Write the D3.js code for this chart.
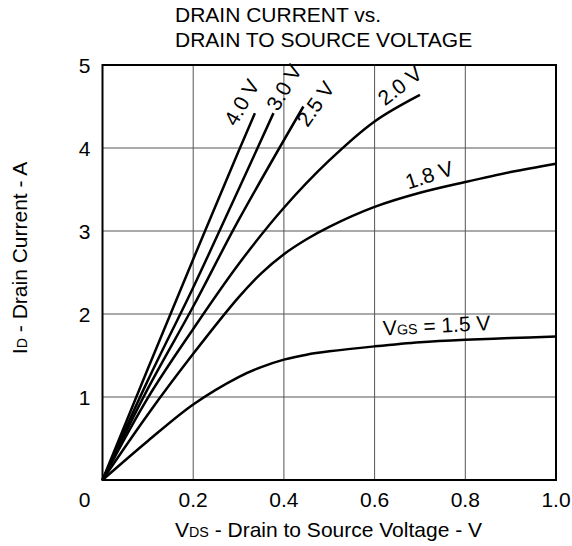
<!DOCTYPE html>
<html>
<head>
<meta charset="utf-8">
<script src="https://cdn.jsdelivr.net/npm/d3@7"></script>
<style>
  body { margin: 0; background: #fff; }
  text { font-family: "Liberation Sans", Arial, Helvetica, sans-serif; fill: #000; }
</style>
</head>
<body>
<div id="chart"></div>
<script>
// values
const vdsTo4_0 = [0, 0.1, 0.2, 0.3, 0.336];
const id4_0 = [0, 1.34, 2.66, 3.96, 4.42];

const vdsTo3_0 = [0, 0.1, 0.2, 0.3, 0.377];
const id3_0 = [0, 1.2, 2.32, 3.5, 4.42];

const vdsTo2_5 = [0, 0.1, 0.2, 0.3, 0.443];
const id2_5 = [0, 1.1, 2.09, 3.13, 4.5];

const vdsTo2_0 = [0, 0.1, 0.2, 0.3, 0.4, 0.5, 0.6, 0.7];
const id2_0 = [0, 0.99, 1.82, 2.6, 3.28, 3.85, 4.32, 4.64];

const vdsFull = [0, 0.1, 0.2, 0.3, 0.35, 0.4, 0.45, 0.5, 0.6, 0.7, 0.8, 0.9, 1.0];
const id1_8 = [0, 0.79, 1.52, 2.2, 2.49, 2.72, 2.9, 3.05, 3.29, 3.46, 3.59, 3.71, 3.81];
const id1_5 = [0, 0.47, 0.91, 1.24, 1.36, 1.45, 1.51, 1.55, 1.61, 1.66, 1.69, 1.71, 1.73];

const xTicks = [0.2, 0.4, 0.6, 0.8, 1.0];
const yTicks = [1, 2, 3, 4, 5];

// curve label anchors (data units) and rotation
const labelText = ["4.0 V", "3.0 V", "2.5 V", "2.0 V", "1.8 V", "1.5 V"];
const labelVds = [0.294, 0.387, 0.452, 0.623, 0.674, 0.619];
const labelId = [4.25, 4.43, 4.24, 4.50, 3.50, 1.74];
const labelAngle = [-60, -60, -55, -38, -18, -3];

const series = [
    { x: vdsTo4_0, y: id4_0 },
    { x: vdsTo3_0, y: id3_0 },
    { x: vdsTo2_5, y: id2_5 },
    { x: vdsTo2_0, y: id2_0 },
    { x: vdsFull, y: id1_8 },
    { x: vdsFull, y: id1_5 }
].map(s => s.x.map((v, i) => ({ vds: v, id: s.y[i] })));

const W = 572, H = 546;
const margin = { top: 65, right: 16, bottom: 66, left: 102.5 };
const width = W - margin.left - margin.right;
const height = H - margin.top - margin.bottom;
const fontSize = 21;

const x = d3.scaleLinear().domain([0, 1]).range([0, width]);
const y = d3.scaleLinear().domain([0, 5]).range([height, 0]);

const svg = d3.select("#chart")
    .append("svg")
    .attr("width", W)
    .attr("height", H);

// title
const title = svg.append("text")
    .attr("x", 175)
    .attr("font-size", fontSize);
title.append("tspan").attr("x", 175).attr("y", 22).text("DRAIN CURRENT vs.");
title.append("tspan").attr("x", 175).attr("y", 47).text("DRAIN TO SOURCE VOLTAGE");

const g = svg.append("g")
    .attr("transform", `translate(${margin.left}, ${margin.top})`);

// grid
g.selectAll(".vgrid")
    .data(xTicks.slice(0, -1))
    .enter()
    .append("line")
    .attr("x1", d => x(d)).attr("x2", d => x(d))
    .attr("y1", 0).attr("y2", height)
    .attr("stroke", "#555")
    .attr("stroke-width", 1);

g.selectAll(".hgrid")
    .data(yTicks.slice(0, -1))
    .enter()
    .append("line")
    .attr("x1", 0).attr("x2", width)
    .attr("y1", d => y(d)).attr("y2", d => y(d))
    .attr("stroke", "#555")
    .attr("stroke-width", 1);

// curves
const line = d3.line()
    .x(d => x(d.vds))
    .y(d => y(d.id))
    .curve(d3.curveCatmullRom.alpha(0.5));

g.selectAll(".curve")
    .data(series)
    .enter()
    .append("path")
    .attr("d", line)
    .attr("fill", "none")
    .attr("stroke", "#000")
    .attr("stroke-width", 2.5);

// frame
g.append("rect")
    .attr("width", width)
    .attr("height", height)
    .attr("fill", "none")
    .attr("stroke", "#000")
    .attr("stroke-width", 2);

// tick labels
g.selectAll(".xtick")
    .data(xTicks)
    .enter()
    .append("text")
    .attr("x", d => x(d))
    .attr("y", height + 27)
    .attr("text-anchor", "middle")
    .attr("font-size", fontSize)
    .text(d => d3.format(".1f")(d));

g.selectAll(".ytick")
    .data(yTicks)
    .enter()
    .append("text")
    .attr("x", -12)
    .attr("y", d => y(d))
    .attr("dy", "0.36em")
    .attr("text-anchor", "end")
    .attr("font-size", fontSize)
    .text(d => d);

g.append("text")
    .attr("x", -12)
    .attr("y", height + 27)
    .attr("text-anchor", "end")
    .attr("font-size", fontSize)
    .text("0");

// axis titles
const xTitle = svg.append("text")
    .attr("x", 175)
    .attr("y", 537)
    .attr("font-size", fontSize);
xTitle.append("tspan").text("V");
xTitle.append("tspan").attr("font-size", fontSize * 0.68).text("DS");
xTitle.append("tspan").text(" - Drain to Source Voltage - V");

const yTitle = svg.append("text")
    .attr("transform", "translate(27, 258) rotate(-90)")
    .attr("text-anchor", "middle")
    .attr("font-size", fontSize);
yTitle.append("tspan").text("I");
yTitle.append("tspan").attr("font-size", fontSize * 0.68).text("D");
yTitle.append("tspan").text(" - Drain Current - A");

// curve labels
labelText.forEach((t, i) => {
    const lbl = g.append("text")
        .attr("transform", `translate(${x(labelVds[i])}, ${y(labelId[i])}) rotate(${labelAngle[i]})`)
        .attr("font-size", fontSize);
    if (i === labelText.length - 1) {
        lbl.append("tspan").text("V");
        lbl.append("tspan").attr("font-size", fontSize * 0.68).text("GS");
        lbl.append("tspan").text(" = " + t);
    } else {
        lbl.text(t);
    }
});
</script>
</body>
</html>
